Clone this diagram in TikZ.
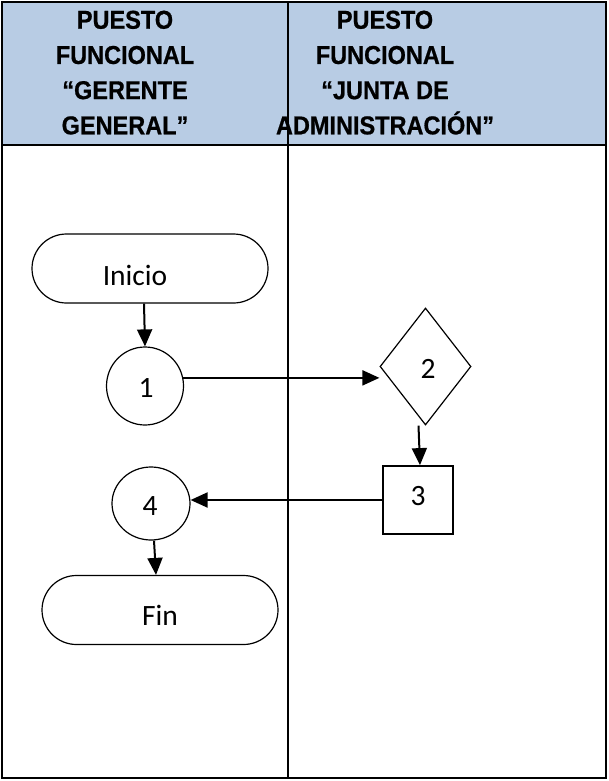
\documentclass[tikz,border=0pt]{standalone}
\usepackage{fontspec}
\usepackage{graphicx}
\setmainfont{Carlito}
\newfontfamily\headfont[BoldFeatures={FakeBold=0.7}]{Liberation Sans}
\usetikzlibrary{shapes.geometric,shapes.misc,arrows.meta}
\definecolor{headblue}{HTML}{B8CCE4}
\tikzset{
  grid/.style={line width=2.6pt, black},
  shapeline/.style={draw=black, line width=1.2pt, fill=white, inner sep=0pt},
  terminal/.style={shapeline, rounded rectangle, minimum width=236pt, minimum height=69pt},
  conn/.style={shapeline, ellipse},
  decision/.style={shapeline, diamond, minimum width=91pt, minimum height=117pt},
  process/.style={shapeline, line width=1.8pt, rectangle, minimum width=70pt, minimum height=68pt},
  body/.style={font=\fontsize{29.5}{34}\selectfont, inner sep=0pt},
  head/.style={inner sep=0pt},
  arr/.style={line width=2pt, -{Triangle[length=17pt,width=15pt]}}
}
\newcommand{\headtext}[1]{\scalebox{1}[1.1]{\headfont\bfseries\fontsize{23.5}{32}\selectfont\begin{tabular}{@{}c@{}}#1\end{tabular}}}
\begin{document}
\begin{tikzpicture}[x=1pt,y=-1pt]
\useasboundingbox (0,0) rectangle (609,781);
% header band
\fill[headblue] (2,2) rectangle (606,145);
% lanes
\draw[grid] (2,2) rectangle (606,778);
\draw[grid] (2,145) -- (606,145);
\draw[grid] (288,2) -- (288,778);
% lane titles
\node[head] (hgg) at (125,74.5) {\headtext{PUESTO\\FUNCIONAL\\“GERENTE\\GENERAL”}};
\node[head] (hja) at (385,74.5) {\headtext{PUESTO\\FUNCIONAL\\“JUNTA DE\\ADMINISTRACIÓN”}};
% flow shapes
\node[terminal] (ini) at (150,268.5) {};
\node[body] (iniT) at (135,275) {Inicio};
\node[conn, minimum width=77pt, minimum height=78pt] (c1) at (145,386) {};
\node[body] (c1T) at (146,388) {1};
\node[decision] (d2) at (425.5,366.5) {};
\node[body] (d2T) at (428,368.5) {2};
\node[process] (s3) at (418,500) {};
\node[body] (s3T) at (418,496.5) {3};
\node[conn, minimum width=78pt, minimum height=73pt] (c4) at (151,503.5) {};
\node[body] (c4T) at (150,506) {4};
\node[terminal] (fin) at (160,610) {};
\node[body] (finT) at (160,615) {Fin};
% connectors
\draw[arr] ([xshift=-6pt]ini.south) -- (c1.north);
\draw[arr] (c1.12) -- (c1.12 -| d2.west);
\draw[arr] ([xshift=-7pt]d2.south) -- ([xshift=2pt]s3.north);
\draw[arr] (s3.west) -- (s3.west -| c4.east);
\draw[arr] ([xshift=3pt]c4.south) -- ([xshift=-4pt]fin.north);
\end{tikzpicture}
\end{document}
